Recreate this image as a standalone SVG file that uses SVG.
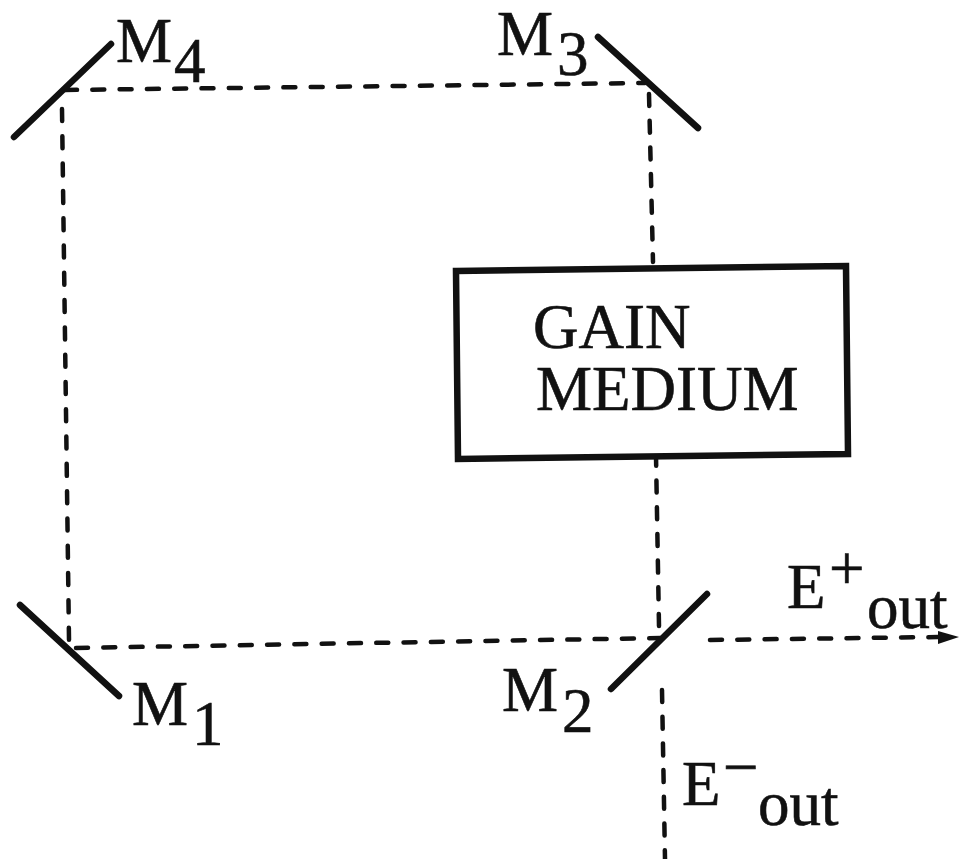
<svg xmlns="http://www.w3.org/2000/svg" width="959" height="859" viewBox="0 0 959 859">
<style>
text{font-family:"Liberation Serif",serif;fill:#111;font-size:63px;stroke:#111;stroke-width:.6}
.m{stroke:#111;stroke-width:6.5;fill:none;stroke-linecap:round}
.d{stroke:#111;stroke-width:4.5;fill:none;stroke-dasharray:12 15.3;stroke-linecap:round}
.v{stroke-dasharray:12 14.7}
</style>
<rect width="959" height="859" fill="#fff"/>
<g id="connectors">
<path class="d" d="M65 90L645 83"/>
<path class="d" d="M62 109L69 640"/>
<path class="d v" d="M649 94L653 262"/>
<path class="d v" d="M659 626L656 456"/>
<path class="d" d="M76 648L660 638"/>
<path class="d" d="M710 640L938 637"/>
<path class="d v" d="M662 690L665 859"/>
<polygon points="938,631 959,637 938,644" fill="#111"/>
</g>
<g id="m4"><path class="m" d="M14 137L111 44"/><text x="116" y="62">M</text><text x="174" y="82">4</text></g>
<g id="m3"><path class="m" d="M598 37L698 128"/><text x="497" y="55">M</text><text x="557" y="75">3</text></g>
<g id="m1"><path class="m" d="M20 605L119 696"/><text x="132" y="725">M</text><text x="192" y="745">1</text></g>
<g id="m2"><path class="m" d="M611 689L707 594"/><text x="502" y="711">M</text><text x="562" y="732">2</text></g>
<g id="gain"><polygon points="456,271 846,266 848,454 458,459" fill="#fff" stroke="#111" stroke-width="6.5"/><text><tspan x="533" y="348">GAIN</tspan><tspan x="536" y="410">MEDIUM</tspan></text></g>
<g id="eplus"><text x="787" y="608">E</text><text x="829" y="590">+</text><text x="867" y="628">out</text></g>
<g id="eminus"><text x="682" y="805">E</text><text x="723" y="788">−</text><text x="758" y="825">out</text></g>
</svg>
